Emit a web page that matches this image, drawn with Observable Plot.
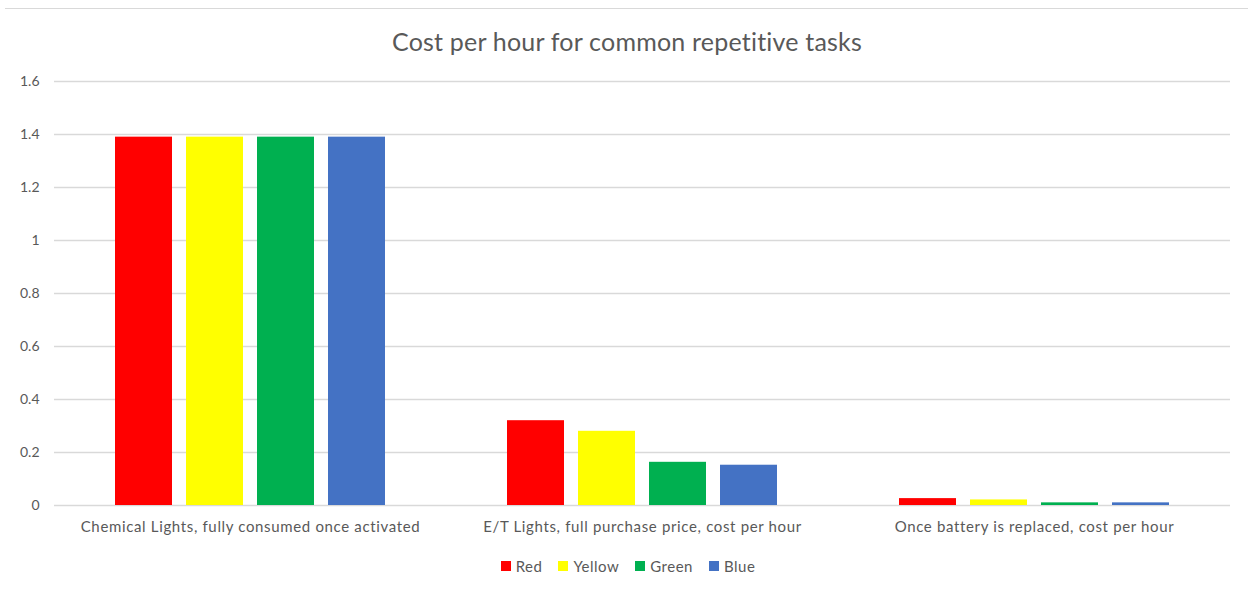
<!DOCTYPE html>
<html>
<head>
<meta charset="utf-8">
<script src="https://cdn.jsdelivr.net/npm/d3@7"></script>
<script src="https://cdn.jsdelivr.net/npm/@observablehq/plot@0.6"></script>
<style>
  html, body { margin: 0; padding: 0; background: #fff; }
  body { width: 1248px; height: 593px; position: relative; overflow: hidden; font-family: Lato, "Open Sans", sans-serif; color: #595959; }
  #frame { position: absolute; left: 5px; right: 0; top: 8px; border-top: 1.5px solid #d9d9d9; }
  #title { position: absolute; top: 26px; left: 0; width: 1254px; text-align: center; font-size: 25px; letter-spacing: 0.2px; color: #595959; }
  #chart { position: absolute; top: 60px; left: 0; }
  #chart g[aria-label="fx-axis tick label"] { letter-spacing: 0.65px; }
  #legend { position: absolute; top: 557px; left: 0; width: 1256px; display: flex; justify-content: center; gap: 16px; font-size: 15px; letter-spacing: 0.5px; color: #595959; }
  .item { display: flex; align-items: center; gap: 5px; }
  .sw { width: 10px; height: 10px; display: inline-block; }
</style>
</head>
<body>
<div id="frame"></div>
<div id="title">Cost per hour for common repetitive tasks</div>
<div id="chart"></div>
<div id="legend"></div>
<script>
const categories = [
  "Chemical Lights, fully consumed once activated",
  "E/T Lights, full purchase price, cost per hour",
  "Once battery is replaced, cost per hour"
];
const seriesNames = ["Red", "Yellow", "Green", "Blue"];
const seriesColors = ["#FF0000", "#FFFF00", "#00B050", "#4472C4"];
const redValues    = [1.39, 0.32, 0.026];
const yellowValues = [1.39, 0.28, 0.021];
const greenValues  = [1.39, 0.163, 0.010];
const blueValues   = [1.39, 0.152, 0.010];
const yTicks = [0, 0.2, 0.4, 0.6, 0.8, 1, 1.2, 1.4, 1.6];

const seriesValues = [redValues, yellowValues, greenValues, blueValues];
const data = [];
categories.forEach((c, i) => {
  seriesNames.forEach((s, j) => {
    data.push({category: c, series: s, value: seriesValues[j][i]});
  });
});

const chart = Plot.plot({
  width: 1248,
  height: 480,
  marginLeft: 53,
  marginRight: 18,
  marginTop: 21,
  marginBottom: 35,
  style: {fontFamily: "Lato, 'Open Sans', sans-serif", color: "#595959", background: "white"},
  fx: {domain: categories, padding: 0, label: null},
  x: {domain: seriesNames, paddingInner: 0.2, paddingOuter: 0.86, axis: null},
  y: {domain: [0, 1.6], label: null},
  color: {type: "ordinal", domain: seriesNames, range: seriesColors},
  marks: [
    Plot.ruleY(yTicks, {stroke: "#d9d9d9", strokeWidth: 1.3}),
    Plot.barY(data, {fx: "category", x: "series", y: "value", fill: {value: "series", scale: "color"}}),
    Plot.axisY(yTicks, {tickSize: 0, tickPadding: 15, tickFormat: d => String(d), fontSize: 14, fill: "#595959", label: null}),
    Plot.axisFx({tickSize: 0, tickPadding: 16, fontSize: 15, fill: "#595959", label: null, anchor: "bottom"})
  ]
});
document.getElementById("chart").appendChild(chart);

const legend = document.getElementById("legend");
seriesNames.forEach((s, i) => {
  const item = document.createElement("div");
  item.className = "item";
  const sw = document.createElement("span");
  sw.className = "sw";
  sw.style.background = seriesColors[i];
  const t = document.createElement("span");
  t.textContent = s;
  item.appendChild(sw);
  item.appendChild(t);
  legend.appendChild(item);
});
</script>
</body>
</html>
